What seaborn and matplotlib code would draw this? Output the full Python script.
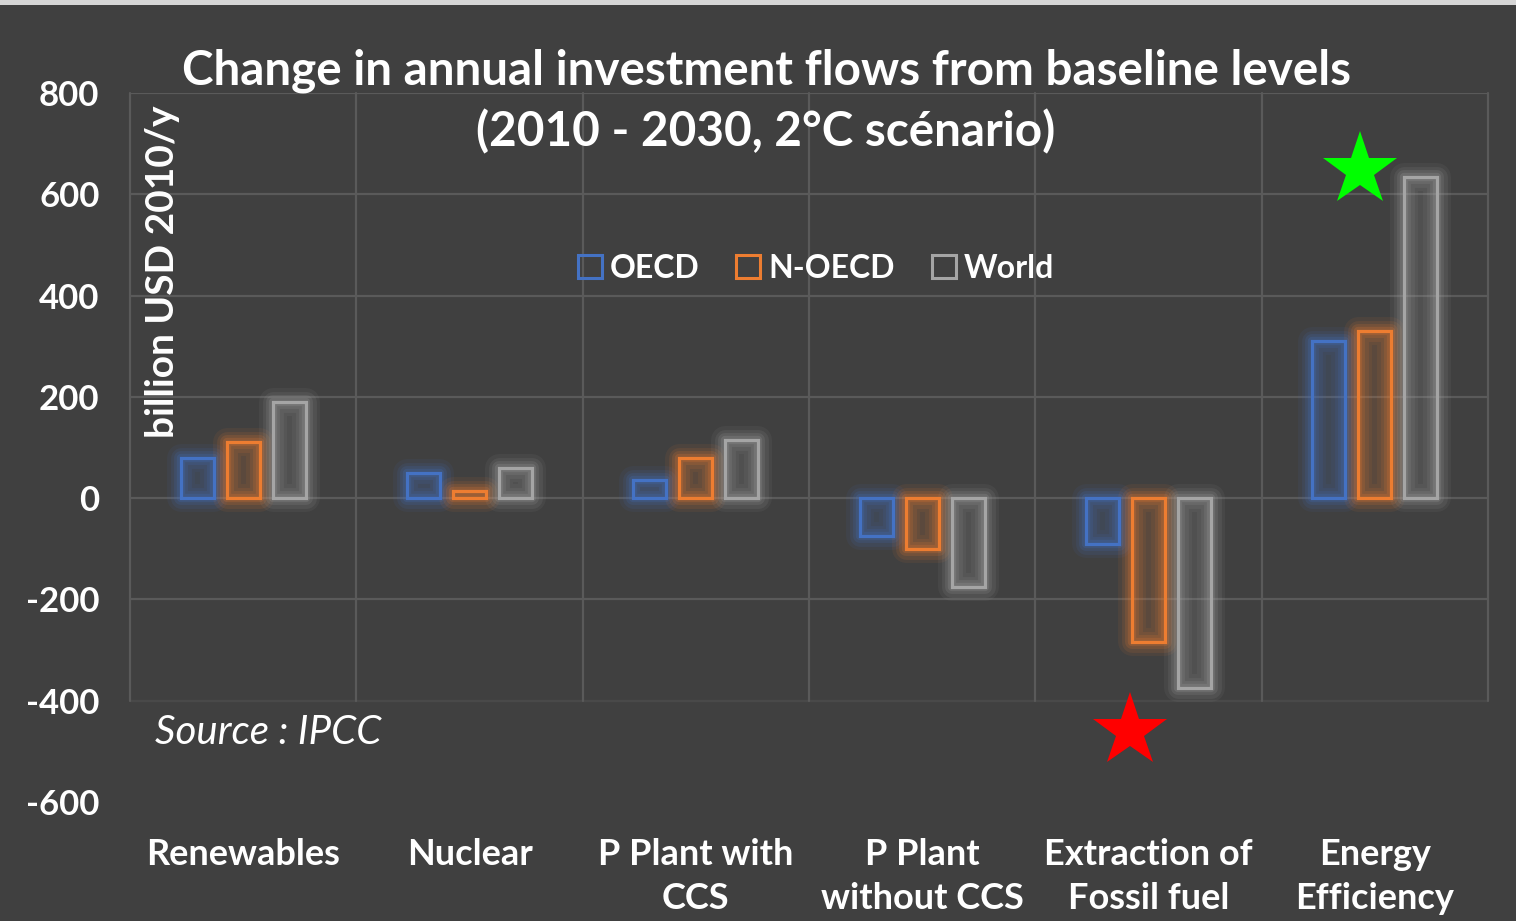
import matplotlib
matplotlib.use("Agg")
import matplotlib.pyplot as plt
from matplotlib.patches import Rectangle, Patch
import pandas as pd
import seaborn as sns

# ---- data (billion USD 2010 per year) ----
categories = ["Renewables", "Nuclear", "P Plant with\nCCS", "P Plant\nwithout CCS",
              "Extraction of\nFossil fuel", "Energy\nEfficiency"]
regions = ["OECD", "N-OECD", "World"]
oecd = [80, 50, 35, -75, -90, 310]
n_oecd = [110, 15, 80, -100, -285, 330]
world = [190, 60, 115, -175, -375, 635]
y_ticks = [800, 600, 400, 200, 0, -200, -400, -600]

colors = {"OECD": "#4472C4", "N-OECD": "#ED7D31", "World": "#A5A5A5"}
BG = "#404040"
GRID = "#5a5a5a"
TXT = "#ffffff"

df = pd.DataFrame({
    "category": categories * 3,
    "region": [r for r in regions for _ in categories],
    "value": oecd + n_oecd + world,
})

sns.set_theme(style="white")
plt.rcParams["font.family"] = ["Lato", "DejaVu Sans"]

fig = plt.figure(figsize=(15.16, 9.21), dpi=100, facecolor=BG)
ax = fig.add_axes([130 / 1516, 1 - 802 / 921, (1488 - 130) / 1516, (802 - 93) / 921])
ax.set_facecolor(BG)

sns.barplot(data=df, x="category", y="value", hue="region", hue_order=regions,
            order=categories, palette=colors, width=0.61, gap=0.28,
            legend=False, ax=ax, zorder=3)

ax.set_xlim(-0.5, len(categories) - 0.5)
ax.set_ylim(-600, 800)

# gridlines: horizontal at each tick, vertical between categories
for yv in y_ticks:
    if yv == -600:
        continue
    a = 0.35 if yv == -400 else 1.0
    ax.axhline(yv, color=GRID, lw=1.6, alpha=a, zorder=1)
for xv in [k - 0.5 for k in range(len(categories) + 1)]:
    ax.plot([xv, xv], [-400, 800], color=GRID, lw=1.6, zorder=1, clip_on=False)

# hollow bars with a soft glow
n = len(categories)
for i, p in enumerate(ax.patches):
    c = colors[regions[i // n]]
    x0, y0, w, h = p.get_x(), p.get_y(), p.get_width(), p.get_height()
    p.set_facecolor(matplotlib.colors.to_rgba(c, 0.16))
    p.set_edgecolor(c)
    p.set_linewidth(2.3)
    for lw, al in [(20, 0.08), (15, 0.11), (10, 0.15), (6, 0.2)]:
        ax.add_patch(Rectangle((x0, y0), w, h, fill=False, edgecolor=c,
                               lw=lw, alpha=al, zorder=2, joinstyle="round"))

for s in ax.spines.values():
    s.set_visible(False)

ax.set_yticks(y_ticks)
ax.set_yticklabels([str(v) for v in y_ticks], fontsize=25, fontweight="bold", color=TXT)
ax.tick_params(axis="y", length=0, pad=22)
ax.set_xticks(range(len(categories)))
ax.set_xticklabels(categories, fontsize=26, fontweight="bold", color=TXT, linespacing=1.42)
ax.tick_params(axis="x", length=0, pad=26)
for lab in ax.get_xticklabels():
    lab.set_verticalalignment("top")
ax.set_xlabel("")
ax.set_ylabel("")

# titles and annotations
fig.text(766 / 1516, 1 - 71 / 921, "Change in annual investment flows from baseline levels",
         ha="center", va="center", fontsize=34.3, fontweight="bold", color=TXT)
fig.text(766 / 1516, 1 - 132 / 921, "(2010 - 2030, 2°C scénario)",
         ha="center", va="center", fontsize=34.3, fontweight="bold", color=TXT)
fig.text(163 / 1516, 1 - 272 / 921, "billion USD 2010/y", rotation=90,
         ha="center", va="center", fontsize=28, fontweight="bold", color=TXT)
ax.text(-0.39, -463, "Source : IPCC", ha="left", va="center",
        fontsize=29, fontstyle="italic", color=TXT, zorder=5)

# highlight stars
ax.plot([4.935], [648], marker="*", markersize=56, color="#00FF00",
        markeredgewidth=0, zorder=6, clip_on=False)
ax.plot([3.92], [-459], marker="*", markersize=56, color="#FF0000",
        markeredgewidth=0, zorder=6, clip_on=False)

# legend with hollow square keys
handles = [Patch(facecolor="none", edgecolor=colors[r], lw=2.2, label=r) for r in regions]
leg = fig.legend(handles=handles, loc="center", bbox_to_anchor=(816 / 1516, 1 - 268 / 921),
                 ncol=3, frameon=False, handlelength=0.75, handleheight=0.75,
                 handletextpad=0.25, columnspacing=1.15,
                 prop={"size": 23, "weight": "bold"})
for t in leg.get_texts():
    t.set_color(TXT)

# thin light strip along the top edge
fig.patches.append(Rectangle((0, 1 - 5 / 921), 1, 5 / 921, transform=fig.transFigure,
                             facecolor="#d6d6d6", edgecolor="none", zorder=10))

fig.savefig("out.png", dpi=100, facecolor=BG)
